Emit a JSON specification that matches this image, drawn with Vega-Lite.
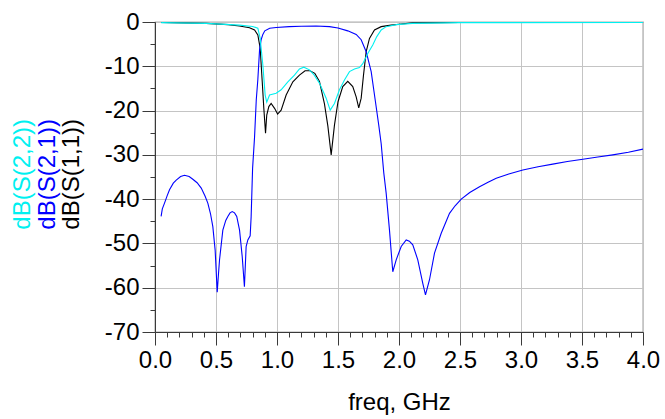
{
  "$schema": "https://vega.github.io/schema/vega-lite/v6.json",
  "width": 488,
  "height": 310,
  "autosize": "none",
  "padding": {"left": 155, "top": 22, "right": 22, "bottom": 87},
  "config": {
    "font": "Liberation Sans",
    "view": {"stroke": "#5f5f5f", "strokeWidth": 1.2},
    "axis": {"labelFont": "Liberation Sans", "titleFont": "Liberation Sans", "labelColor": "#000000", "titleColor": "#000000"}
  },
  "datasets": {
    "curves": [
      {"f": 0.05, "db": -0.1, "s": "dB(S(1,1))"},
      {"f": 0.42, "db": -0.3, "s": "dB(S(1,1))"},
      {"f": 0.6, "db": -0.6, "s": "dB(S(1,1))"},
      {"f": 0.692, "db": -0.9, "s": "dB(S(1,1))"},
      {"f": 0.775, "db": -1.3, "s": "dB(S(1,1))"},
      {"f": 0.816, "db": -1.8, "s": "dB(S(1,1))"},
      {"f": 0.843, "db": -2.9, "s": "dB(S(1,1))"},
      {"f": 0.862, "db": -5.9, "s": "dB(S(1,1))"},
      {"f": 0.879, "db": -13.5, "s": "dB(S(1,1))"},
      {"f": 0.892, "db": -19.5, "s": "dB(S(1,1))"},
      {"f": 0.906, "db": -25.1, "s": "dB(S(1,1))"},
      {"f": 0.916, "db": -21.0, "s": "dB(S(1,1))"},
      {"f": 0.933, "db": -19.1, "s": "dB(S(1,1))"},
      {"f": 0.952, "db": -18.4, "s": "dB(S(1,1))"},
      {"f": 0.98, "db": -19.5, "s": "dB(S(1,1))"},
      {"f": 1.005, "db": -20.8, "s": "dB(S(1,1))"},
      {"f": 1.034, "db": -19.9, "s": "dB(S(1,1))"},
      {"f": 1.075, "db": -16.5, "s": "dB(S(1,1))"},
      {"f": 1.13, "db": -13.5, "s": "dB(S(1,1))"},
      {"f": 1.184, "db": -12.0, "s": "dB(S(1,1))"},
      {"f": 1.23, "db": -11.0, "s": "dB(S(1,1))"},
      {"f": 1.27, "db": -11.0, "s": "dB(S(1,1))"},
      {"f": 1.31, "db": -11.6, "s": "dB(S(1,1))"},
      {"f": 1.348, "db": -13.4, "s": "dB(S(1,1))"},
      {"f": 1.389, "db": -18.5, "s": "dB(S(1,1))"},
      {"f": 1.417, "db": -23.5, "s": "dB(S(1,1))"},
      {"f": 1.444, "db": -30.0, "s": "dB(S(1,1))"},
      {"f": 1.471, "db": -23.3, "s": "dB(S(1,1))"},
      {"f": 1.5, "db": -18.0, "s": "dB(S(1,1))"},
      {"f": 1.539, "db": -14.6, "s": "dB(S(1,1))"},
      {"f": 1.58, "db": -13.4, "s": "dB(S(1,1))"},
      {"f": 1.621, "db": -14.6, "s": "dB(S(1,1))"},
      {"f": 1.649, "db": -16.9, "s": "dB(S(1,1))"},
      {"f": 1.67, "db": -19.4, "s": "dB(S(1,1))"},
      {"f": 1.69, "db": -17.2, "s": "dB(S(1,1))"},
      {"f": 1.709, "db": -12.0, "s": "dB(S(1,1))"},
      {"f": 1.731, "db": -6.7, "s": "dB(S(1,1))"},
      {"f": 1.758, "db": -3.7, "s": "dB(S(1,1))"},
      {"f": 1.799, "db": -1.8, "s": "dB(S(1,1))"},
      {"f": 1.854, "db": -1.05, "s": "dB(S(1,1))"},
      {"f": 1.936, "db": -0.7, "s": "dB(S(1,1))"},
      {"f": 2.0, "db": -0.5, "s": "dB(S(1,1))"},
      {"f": 2.11, "db": -0.2, "s": "dB(S(1,1))"},
      {"f": 2.5, "db": -0.1, "s": "dB(S(1,1))"},
      {"f": 4.0, "db": -0.05, "s": "dB(S(1,1))"},

      {"f": 0.05, "db": -43.9, "s": "dB(S(2,1))"},
      {"f": 0.06, "db": -42.2, "s": "dB(S(2,1))"},
      {"f": 0.078, "db": -40.9, "s": "dB(S(2,1))"},
      {"f": 0.1, "db": -39.2, "s": "dB(S(2,1))"},
      {"f": 0.119, "db": -37.9, "s": "dB(S(2,1))"},
      {"f": 0.15, "db": -36.4, "s": "dB(S(2,1))"},
      {"f": 0.174, "db": -35.7, "s": "dB(S(2,1))"},
      {"f": 0.21, "db": -34.9, "s": "dB(S(2,1))"},
      {"f": 0.242, "db": -34.6, "s": "dB(S(2,1))"},
      {"f": 0.28, "db": -34.9, "s": "dB(S(2,1))"},
      {"f": 0.31, "db": -35.5, "s": "dB(S(2,1))"},
      {"f": 0.345, "db": -36.3, "s": "dB(S(2,1))"},
      {"f": 0.379, "db": -37.5, "s": "dB(S(2,1))"},
      {"f": 0.41, "db": -39.3, "s": "dB(S(2,1))"},
      {"f": 0.433, "db": -40.9, "s": "dB(S(2,1))"},
      {"f": 0.455, "db": -43.3, "s": "dB(S(2,1))"},
      {"f": 0.474, "db": -46.2, "s": "dB(S(2,1))"},
      {"f": 0.493, "db": -51.5, "s": "dB(S(2,1))"},
      {"f": 0.51, "db": -61.0, "s": "dB(S(2,1))"},
      {"f": 0.52, "db": -57.0, "s": "dB(S(2,1))"},
      {"f": 0.529, "db": -53.7, "s": "dB(S(2,1))"},
      {"f": 0.556, "db": -47.0, "s": "dB(S(2,1))"},
      {"f": 0.58, "db": -44.8, "s": "dB(S(2,1))"},
      {"f": 0.597, "db": -43.9, "s": "dB(S(2,1))"},
      {"f": 0.615, "db": -43.1, "s": "dB(S(2,1))"},
      {"f": 0.633, "db": -42.8, "s": "dB(S(2,1))"},
      {"f": 0.652, "db": -43.1, "s": "dB(S(2,1))"},
      {"f": 0.67, "db": -43.9, "s": "dB(S(2,1))"},
      {"f": 0.693, "db": -47.0, "s": "dB(S(2,1))"},
      {"f": 0.715, "db": -53.0, "s": "dB(S(2,1))"},
      {"f": 0.733, "db": -59.8, "s": "dB(S(2,1))"},
      {"f": 0.747, "db": -50.7, "s": "dB(S(2,1))"},
      {"f": 0.761, "db": -49.2, "s": "dB(S(2,1))"},
      {"f": 0.78, "db": -48.3, "s": "dB(S(2,1))"},
      {"f": 0.788, "db": -44.0, "s": "dB(S(2,1))"},
      {"f": 0.8, "db": -33.0, "s": "dB(S(2,1))"},
      {"f": 0.816, "db": -26.0, "s": "dB(S(2,1))"},
      {"f": 0.83, "db": -17.6, "s": "dB(S(2,1))"},
      {"f": 0.843, "db": -13.0, "s": "dB(S(2,1))"},
      {"f": 0.857, "db": -6.3, "s": "dB(S(2,1))"},
      {"f": 0.87, "db": -4.0, "s": "dB(S(2,1))"},
      {"f": 0.884, "db": -2.8, "s": "dB(S(2,1))"},
      {"f": 0.9, "db": -2.0, "s": "dB(S(2,1))"},
      {"f": 0.94, "db": -1.4, "s": "dB(S(2,1))"},
      {"f": 0.993, "db": -1.25, "s": "dB(S(2,1))"},
      {"f": 1.1, "db": -1.05, "s": "dB(S(2,1))"},
      {"f": 1.2, "db": -0.95, "s": "dB(S(2,1))"},
      {"f": 1.32, "db": -0.9, "s": "dB(S(2,1))"},
      {"f": 1.43, "db": -1.05, "s": "dB(S(2,1))"},
      {"f": 1.5, "db": -1.35, "s": "dB(S(2,1))"},
      {"f": 1.58, "db": -2.0, "s": "dB(S(2,1))"},
      {"f": 1.649, "db": -2.8, "s": "dB(S(2,1))"},
      {"f": 1.69, "db": -4.0, "s": "dB(S(2,1))"},
      {"f": 1.731, "db": -6.7, "s": "dB(S(2,1))"},
      {"f": 1.772, "db": -11.2, "s": "dB(S(2,1))"},
      {"f": 1.807, "db": -18.0, "s": "dB(S(2,1))"},
      {"f": 1.834, "db": -23.3, "s": "dB(S(2,1))"},
      {"f": 1.854, "db": -27.5, "s": "dB(S(2,1))"},
      {"f": 1.875, "db": -34.0, "s": "dB(S(2,1))"},
      {"f": 1.895, "db": -38.7, "s": "dB(S(2,1))"},
      {"f": 1.922, "db": -47.0, "s": "dB(S(2,1))"},
      {"f": 1.949, "db": -56.4, "s": "dB(S(2,1))"},
      {"f": 1.977, "db": -53.7, "s": "dB(S(2,1))"},
      {"f": 2.018, "db": -50.7, "s": "dB(S(2,1))"},
      {"f": 2.059, "db": -49.2, "s": "dB(S(2,1))"},
      {"f": 2.085, "db": -49.5, "s": "dB(S(2,1))"},
      {"f": 2.113, "db": -50.3, "s": "dB(S(2,1))"},
      {"f": 2.154, "db": -53.7, "s": "dB(S(2,1))"},
      {"f": 2.195, "db": -59.0, "s": "dB(S(2,1))"},
      {"f": 2.217, "db": -61.6, "s": "dB(S(2,1))"},
      {"f": 2.25, "db": -58.2, "s": "dB(S(2,1))"},
      {"f": 2.291, "db": -52.2, "s": "dB(S(2,1))"},
      {"f": 2.346, "db": -47.7, "s": "dB(S(2,1))"},
      {"f": 2.414, "db": -43.2, "s": "dB(S(2,1))"},
      {"f": 2.46, "db": -41.5, "s": "dB(S(2,1))"},
      {"f": 2.51, "db": -40.0, "s": "dB(S(2,1))"},
      {"f": 2.58, "db": -38.5, "s": "dB(S(2,1))"},
      {"f": 2.66, "db": -37.2, "s": "dB(S(2,1))"},
      {"f": 2.73, "db": -36.2, "s": "dB(S(2,1))"},
      {"f": 2.797, "db": -35.3, "s": "dB(S(2,1))"},
      {"f": 2.9, "db": -34.3, "s": "dB(S(2,1))"},
      {"f": 3.015, "db": -33.4, "s": "dB(S(2,1))"},
      {"f": 3.14, "db": -32.7, "s": "dB(S(2,1))"},
      {"f": 3.26, "db": -32.1, "s": "dB(S(2,1))"},
      {"f": 3.38, "db": -31.5, "s": "dB(S(2,1))"},
      {"f": 3.507, "db": -31.0, "s": "dB(S(2,1))"},
      {"f": 3.63, "db": -30.5, "s": "dB(S(2,1))"},
      {"f": 3.752, "db": -30.0, "s": "dB(S(2,1))"},
      {"f": 3.88, "db": -29.4, "s": "dB(S(2,1))"},
      {"f": 4.0, "db": -28.7, "s": "dB(S(2,1))"},

      {"f": 0.05, "db": -0.15, "s": "dB(S(2,2))"},
      {"f": 0.42, "db": -0.3, "s": "dB(S(2,2))"},
      {"f": 0.692, "db": -0.7, "s": "dB(S(2,2))"},
      {"f": 0.8, "db": -1.0, "s": "dB(S(2,2))"},
      {"f": 0.843, "db": -1.4, "s": "dB(S(2,2))"},
      {"f": 0.862, "db": -3.7, "s": "dB(S(2,2))"},
      {"f": 0.884, "db": -9.7, "s": "dB(S(2,2))"},
      {"f": 0.903, "db": -16.5, "s": "dB(S(2,2))"},
      {"f": 0.916, "db": -18.1, "s": "dB(S(2,2))"},
      {"f": 0.939, "db": -16.5, "s": "dB(S(2,2))"},
      {"f": 0.993, "db": -16.1, "s": "dB(S(2,2))"},
      {"f": 1.034, "db": -15.3, "s": "dB(S(2,2))"},
      {"f": 1.089, "db": -13.5, "s": "dB(S(2,2))"},
      {"f": 1.143, "db": -12.0, "s": "dB(S(2,2))"},
      {"f": 1.184, "db": -10.6, "s": "dB(S(2,2))"},
      {"f": 1.22, "db": -10.2, "s": "dB(S(2,2))"},
      {"f": 1.266, "db": -10.8, "s": "dB(S(2,2))"},
      {"f": 1.3, "db": -11.8, "s": "dB(S(2,2))"},
      {"f": 1.348, "db": -13.8, "s": "dB(S(2,2))"},
      {"f": 1.403, "db": -17.2, "s": "dB(S(2,2))"},
      {"f": 1.436, "db": -19.9, "s": "dB(S(2,2))"},
      {"f": 1.471, "db": -18.4, "s": "dB(S(2,2))"},
      {"f": 1.512, "db": -15.3, "s": "dB(S(2,2))"},
      {"f": 1.553, "db": -13.1, "s": "dB(S(2,2))"},
      {"f": 1.594, "db": -11.2, "s": "dB(S(2,2))"},
      {"f": 1.635, "db": -10.6, "s": "dB(S(2,2))"},
      {"f": 1.676, "db": -10.3, "s": "dB(S(2,2))"},
      {"f": 1.703, "db": -9.4, "s": "dB(S(2,2))"},
      {"f": 1.744, "db": -7.1, "s": "dB(S(2,2))"},
      {"f": 1.785, "db": -5.2, "s": "dB(S(2,2))"},
      {"f": 1.818, "db": -3.3, "s": "dB(S(2,2))"},
      {"f": 1.854, "db": -1.8, "s": "dB(S(2,2))"},
      {"f": 1.895, "db": -1.05, "s": "dB(S(2,2))"},
      {"f": 1.98, "db": -0.6, "s": "dB(S(2,2))"},
      {"f": 2.11, "db": -0.3, "s": "dB(S(2,2))"},
      {"f": 2.5, "db": -0.15, "s": "dB(S(2,2))"},
      {"f": 4.0, "db": -0.1, "s": "dB(S(2,2))"}
    ],
    "labels": [
      {"f": -1.078, "db": -34.4, "s": "dB(S(2,2))"},
      {"f": -0.881, "db": -34.4, "s": "dB(S(2,1))"},
      {"f": -0.684, "db": -34.4, "s": "dB(S(1,1))"}
    ]
  },
  "resolve": {"axis": {"x": "independent", "y": "independent"}},
  "layer": [
    {
      "data": {"name": "curves"},
      "transform": [{"filter": "datum.s == 'dB(S(1,1))'"}],
      "mark": {"type": "line", "strokeWidth": 1.1, "clip": true},
      "encoding": {
        "x": {
          "field": "f", "type": "quantitative",
          "scale": {"domain": [0, 4], "nice": false, "zero": false},
          "axis": {
            "values": [0, 0.5, 1, 1.5, 2, 2.5, 3, 3.5, 4],
            "format": ".1f",
            "title": "freq, GHz",
            "titleFontSize": 24, "titleFontWeight": "normal", "titlePadding": 18,
            "labelFontSize": 24, "labelPadding": 3, "labelFlush": false,
            "tickSize": 13, "tickColor": "#3a3a3a", "domainColor": "#3a3a3a",
            "grid": true, "gridColor": "#c4c4c4", "gridWidth": 1
          }
        },
        "y": {
          "field": "db", "type": "quantitative",
          "scale": {"domain": [-70, 0], "nice": false, "zero": false},
          "axis": {
            "values": [-70, -60, -50, -40, -30, -20, -10, 0],
            "labelExpr": "'' + datum.value",
            "title": null,
            "labelFontSize": 24, "labelPadding": 3, "labelFlush": false,
            "tickSize": 13, "tickColor": "#3a3a3a", "domainColor": "#3a3a3a",
            "grid": true, "gridColor": "#c4c4c4", "gridWidth": 1
          }
        },
        "color": {
          "field": "s", "type": "nominal",
          "scale": {"domain": ["dB(S(2,2))", "dB(S(2,1))", "dB(S(1,1))"], "range": ["#00f0f0", "#0000ff", "#000000"]},
          "legend": null
        }
      }
    },
    {
      "data": {"name": "curves"},
      "transform": [{"filter": "datum.s == 'dB(S(2,1))'"}],
      "mark": {"type": "line", "strokeWidth": 1.1, "clip": true},
      "encoding": {
        "x": {"field": "f", "type": "quantitative", "scale": {"domain": [0, 4], "nice": false, "zero": false}, "axis": null},
        "y": {"field": "db", "type": "quantitative", "scale": {"domain": [-70, 0], "nice": false, "zero": false}, "axis": null},
        "color": {"field": "s", "type": "nominal", "legend": null}
      }
    },
    {
      "data": {"name": "curves"},
      "transform": [{"filter": "datum.s == 'dB(S(2,2))'"}],
      "mark": {"type": "line", "strokeWidth": 1.1, "clip": true},
      "encoding": {
        "x": {"field": "f", "type": "quantitative", "scale": {"domain": [0, 4], "nice": false, "zero": false}, "axis": null},
        "y": {"field": "db", "type": "quantitative", "scale": {"domain": [-70, 0], "nice": false, "zero": false}, "axis": null},
        "color": {"field": "s", "type": "nominal", "legend": null}
      }
    },
    {
      "data": {"name": "labels"},
      "mark": {"type": "text", "angle": 270, "align": "center", "baseline": "middle", "fontSize": 24, "font": "Liberation Sans"},
      "encoding": {
        "x": {
          "field": "f", "type": "quantitative",
          "scale": {"domain": [0, 4], "nice": false, "zero": false},
          "axis": {
            "orient": "bottom",
            "values": [0.1, 0.2, 0.3, 0.4, 0.6, 0.7, 0.8, 0.9, 1.1, 1.2, 1.3, 1.4, 1.6, 1.7, 1.8, 1.9, 2.1, 2.2, 2.3, 2.4, 2.6, 2.7, 2.8, 2.9, 3.1, 3.2, 3.3, 3.4, 3.6, 3.7, 3.8, 3.9],
            "labels": false, "title": null, "domain": false, "grid": false,
            "tickSize": 5, "tickColor": "#3a3a3a"
          }
        },
        "y": {
          "field": "db", "type": "quantitative",
          "scale": {"domain": [-70, 0], "nice": false, "zero": false},
          "axis": {
            "orient": "left",
            "values": [-65, -55, -45, -35, -25, -15, -5],
            "labels": false, "title": null, "domain": false, "grid": false,
            "tickSize": 5, "tickColor": "#3a3a3a"
          }
        },
        "text": {"field": "s", "type": "nominal"},
        "color": {"field": "s", "type": "nominal", "legend": null}
      }
    }
  ]
}
